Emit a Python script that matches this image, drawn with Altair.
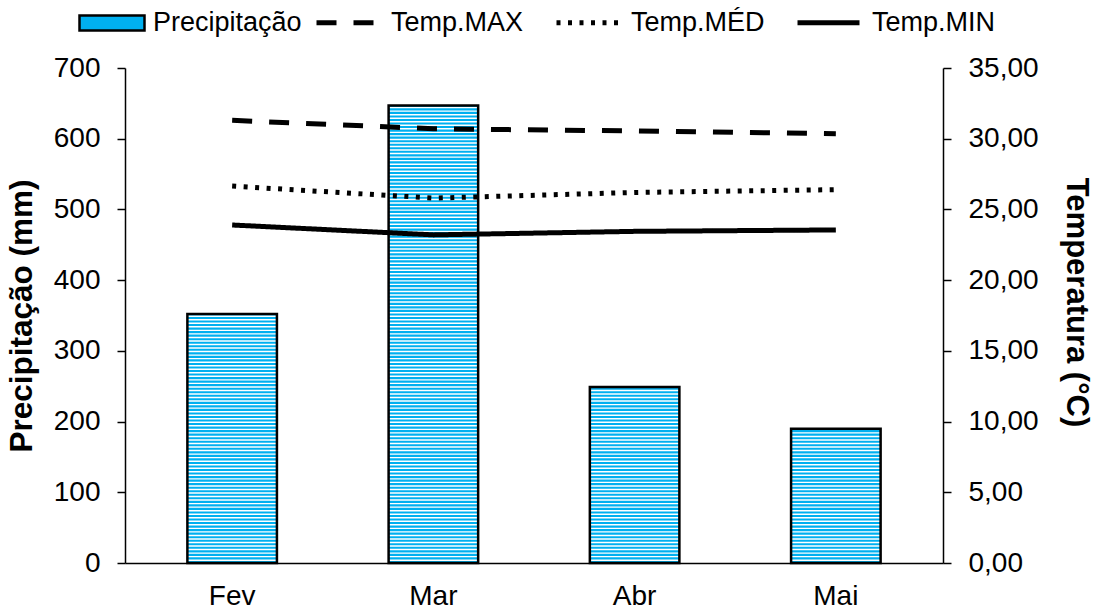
import altair as alt
import pandas as pd

months = ["Fev", "Mar", "Abr", "Mai"]
precip = [352, 647, 249, 190]
t_max = [31.3, 30.7, 30.55, 30.35]
t_med = [26.65, 25.8, 26.2, 26.4]
t_min = [23.9, 23.2, 23.45, 23.55]
series_names = ["Temp.MAX", "Temp.MÉD", "Temp.MIN"]

FONT = "Liberation Sans"
BLUE = "#00B0F0"

bars_df = pd.DataFrame({"Mes": months, "prec": precip, "leg": ["Precipitação"] * 4})

# white hatch stripes (texture only, derived from bar heights)
rows = []
period, white = 5.0, 2.0
for m, v in zip(months, precip):
    lv = 0.0
    while lv < v:
        y0, y1 = lv + (period - white), min(lv + period, v)
        if y1 > y0:
            rows.append({"Mes": m, "y0": y0, "y1": y1})
        lv += period
stripes_df = pd.DataFrame(rows)

long_rows = []
for name, vals in zip(series_names, [t_max, t_med, t_min]):
    for m, v in zip(months, vals):
        long_rows.append({"Mes": m, "serie": name, "temp": v})
lines_df = pd.DataFrame(long_rows)

xenc = alt.X("Mes:N", sort=months, title=None,
             scale=alt.Scale(paddingInner=0.555, paddingOuter=0.31),
             axis=alt.Axis(labelAngle=0, ticks=False, labelFontSize=28, labelFont=FONT,
                           labelColor="black", labelPadding=19, domainColor="black",
                           domainWidth=1.5))

yscale = alt.Scale(domain=[0, 700])

base = alt.Chart(bars_df).mark_bar().encode(
    x=xenc,
    y=alt.Y("prec:Q", scale=yscale, title="Precipitação (mm)",
            axis=alt.Axis(values=list(range(0, 701, 100)), grid=False, labelFontSize=28,
                          labelFont=FONT, labelColor="black", titleFont=FONT, titleFontSize=31.5,
                          titleFontWeight="bold", titleColor="black", tickColor="black",
                          tickSize=8, tickWidth=1.5, domainColor="black", domainWidth=1.5,
                          labelPadding=17, titlePadding=15)),
    fill=alt.Fill("leg:N", title=None,
                  scale=alt.Scale(domain=["Precipitação"], range=[BLUE]),
                  legend=alt.Legend(orient="none", legendX=-47, legendY=-79, direction="horizontal",
                                    symbolType="M-1,-0.23H1V0.23H-1Z", symbolSize=4225,
                                    symbolStrokeColor="black", symbolStrokeWidth=2.5,
                                    symbolOpacity=1, symbolFillColor=BLUE,
                                    labelFontSize=27, labelFont=FONT, labelColor="black",
                                    labelOffset=7)),
)

stripes = alt.Chart(stripes_df).mark_bar(fill="white", strokeWidth=0).encode(
    x=alt.X("Mes:N", sort=months),
    y=alt.Y("y0:Q", scale=yscale),
    y2="y1:Q",
)

outline = alt.Chart(bars_df).mark_bar(fillOpacity=0, stroke="black", strokeWidth=2.5).encode(
    x=alt.X("Mes:N", sort=months),
    y=alt.Y("prec:Q", scale=yscale),
)

bars = alt.layer(base, stripes, outline)

lines = alt.Chart(lines_df).mark_line(color="black", strokeWidth=5).encode(
    x=alt.X("Mes:N", sort=months),
    y=alt.Y("temp:Q", scale=alt.Scale(domain=[0, 35]), title="Temperatura (°C)",
            axis=alt.Axis(orient="right", values=list(range(0, 36, 5)), grid=False,
                          labelExpr="replace(format(datum.value, '.2f'), '.', ',')",
                          labelFontSize=28, labelFont=FONT, labelColor="black",
                          titleFont=FONT, titleFontSize=31, titleFontWeight="bold",
                          titleColor="black", tickColor="black", tickSize=8, tickWidth=1.5,
                          domainColor="black", domainWidth=1.5, labelPadding=17,
                          titlePadding=21, titleY=234)),
    strokeDash=alt.StrokeDash("serie:N", title=None, sort=series_names,
                              scale=alt.Scale(domain=series_names,
                                              range=[[20, 17], [4, 7.5], [1, 0]]),
                              legend=alt.Legend(orient="none", legendX=189, legendY=-79,
                                                direction="horizontal", symbolType="stroke",
                                                symbolSize=3844, symbolStrokeWidth=5,
                                                symbolStrokeColor="black",
                                                labelFontSize=27, labelFont=FONT,
                                                labelColor="black", labelOffset=10,
                                                columnPadding=22)),
)

chart = alt.layer(bars, lines).resolve_scale(y="independent").properties(
    width=818, height=495,
    autosize=alt.AutoSizeParams(type="none"),
    padding={"left": 125, "top": 68, "right": 151, "bottom": 46},
    background="white",
).configure_view(stroke=None)

chart.save("out.html", embed_options={"renderer": "svg", "actions": False})
